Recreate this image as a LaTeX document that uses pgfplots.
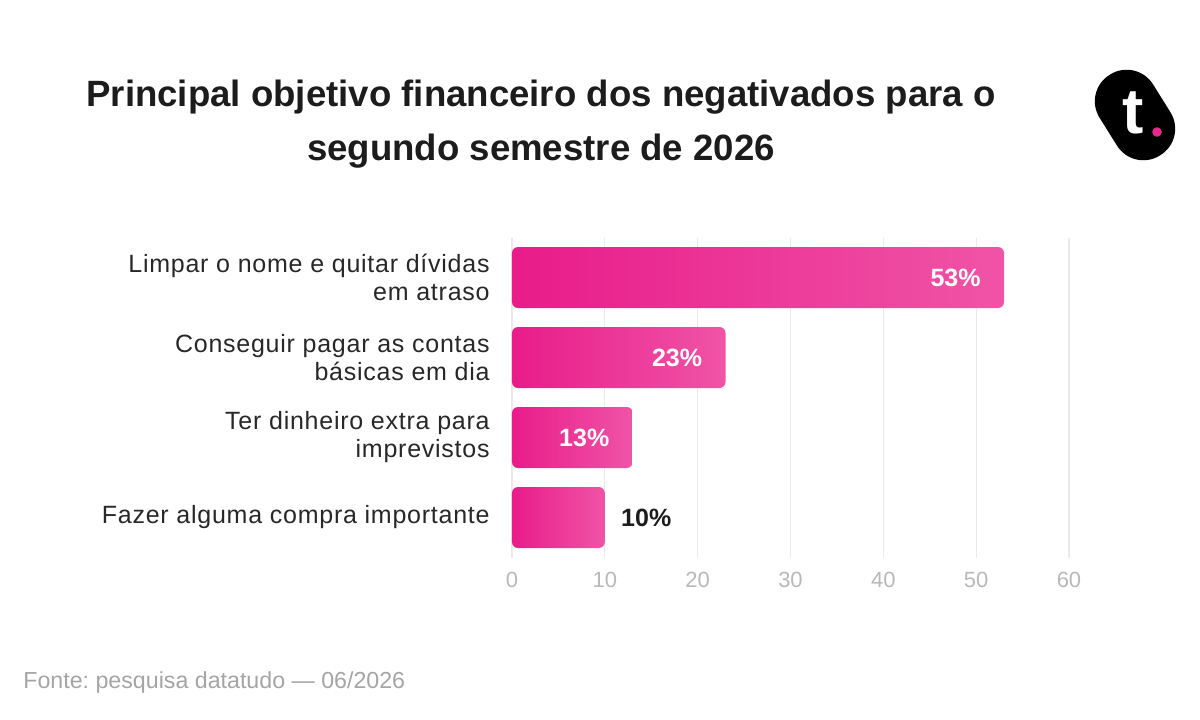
\documentclass[border=0pt]{standalone}
\usepackage{pgfplots}
\pgfplotsset{compat=1.18}
\usepackage{fontspec}
\setmainfont{Liberation Sans}
\frenchspacing

\definecolor{titletxt}{RGB}{28,28,28}
\definecolor{labeltxt}{RGB}{40,40,40}
\definecolor{ticktxt}{RGB}{185,185,185}
\definecolor{gridc}{RGB}{234,234,234}
\definecolor{notetxt}{RGB}{165,165,165}
\definecolor{barL}{RGB}{232,28,138}
\definecolor{barR}{RGB}{240,84,166}
\definecolor{dotpink}{RGB}{230,40,140}

\pgfplotsset{
  pinkbar/.style={draw=none, left color=barL, right color=barR, rounded corners=3pt,
    nodes near coords={\pgfmathprintnumber{\pgfplotspointmeta}\%}},
  inlabel/.style={nodes near coords style={anchor=east, inner sep=0pt, xshift=-11.5pt,
    text=white, font=\fontsize{12.5}{14}\selectfont\bfseries}},
  outlabel/.style={nodes near coords style={anchor=west, inner sep=0pt, xshift=8pt,
    text=titletxt, font=\fontsize{12.5}{14}\selectfont\bfseries}},
}

\begin{document}
\begin{tikzpicture}
% canvas
\fill[white] (0,0) rectangle (600pt,359.5pt);

% title
\node[anchor=base, font=\fontsize{18.3}{20}\selectfont\bfseries, text=titletxt, inner sep=0pt]
  at (270.5pt,306pt) {Principal objetivo financeiro dos negativados para o};
\node[anchor=base, font=\fontsize{18.3}{20}\selectfont\bfseries, text=titletxt, inner sep=0pt]
  at (270.5pt,279pt) {segundo semestre de 2026};

% logo
\begin{scope}[shift={(567.5pt,302pt)}, rotate=32]
  \fill[black, rounded corners=15.5pt] (-15.75pt,-23.75pt) rectangle (15.75pt,23.75pt);
\end{scope}
\node[text=white, font=\fontsize{32}{32}\selectfont\bfseries, inner sep=0pt] at (566.5pt,303pt) {t};
\fill[dotpink] (578.5pt,293.5pt) circle (2.4pt);

\begin{axis}[
  at={(256pt,80.75pt)}, anchor=south west,
  scale only axis, width=278.5pt, height=160pt,
  xmin=0, xmax=60, ymin=-0.5, ymax=3.5,
  y dir=reverse,
  xbar, bar width=30.5pt, bar shift=0pt,
  axis line style={draw=none},
  major tick length=0pt,
  xtick={0,10,...,60},
  xmajorgrids, grid style={gridc, line width=0.6pt},
  ytick={0,1,2,3},
  yticklabels={{Limpar o nome e quitar dívidas\\em atraso},
               {Conseguir pagar as contas\\básicas em dia},
               {Ter dinheiro extra para\\imprevistos},
               {Fazer alguma compra importante}},
  yticklabel style={align=right, anchor=east, inner sep=0pt, xshift=-11pt,
    font=\fontsize{12.5}{14}\selectfont\addfontfeature{LetterSpace=3}, text=labeltxt},
  xticklabel style={font=\fontsize{11}{13}\selectfont, text=ticktxt, yshift=-4pt},
  /pgf/number format/assume math mode=true,
  clip=false,
]
% one plot per bar so each bar carries its own left-to-right shading
\addplot[pinkbar, inlabel] coordinates {(53,0)};
\addplot[pinkbar, inlabel] coordinates {(23,1)};
\addplot[pinkbar, inlabel] coordinates {(13,2)};
\addplot[pinkbar, outlabel] coordinates {(10,3)};
\end{axis}

% source note
\node[anchor=base west, inner sep=0pt, text=notetxt, font=\fontsize{11.6}{13}\selectfont]
  at (11.5pt,15.5pt) {Fonte: pesquisa datatudo — 06/2026};
\end{tikzpicture}
\end{document}
